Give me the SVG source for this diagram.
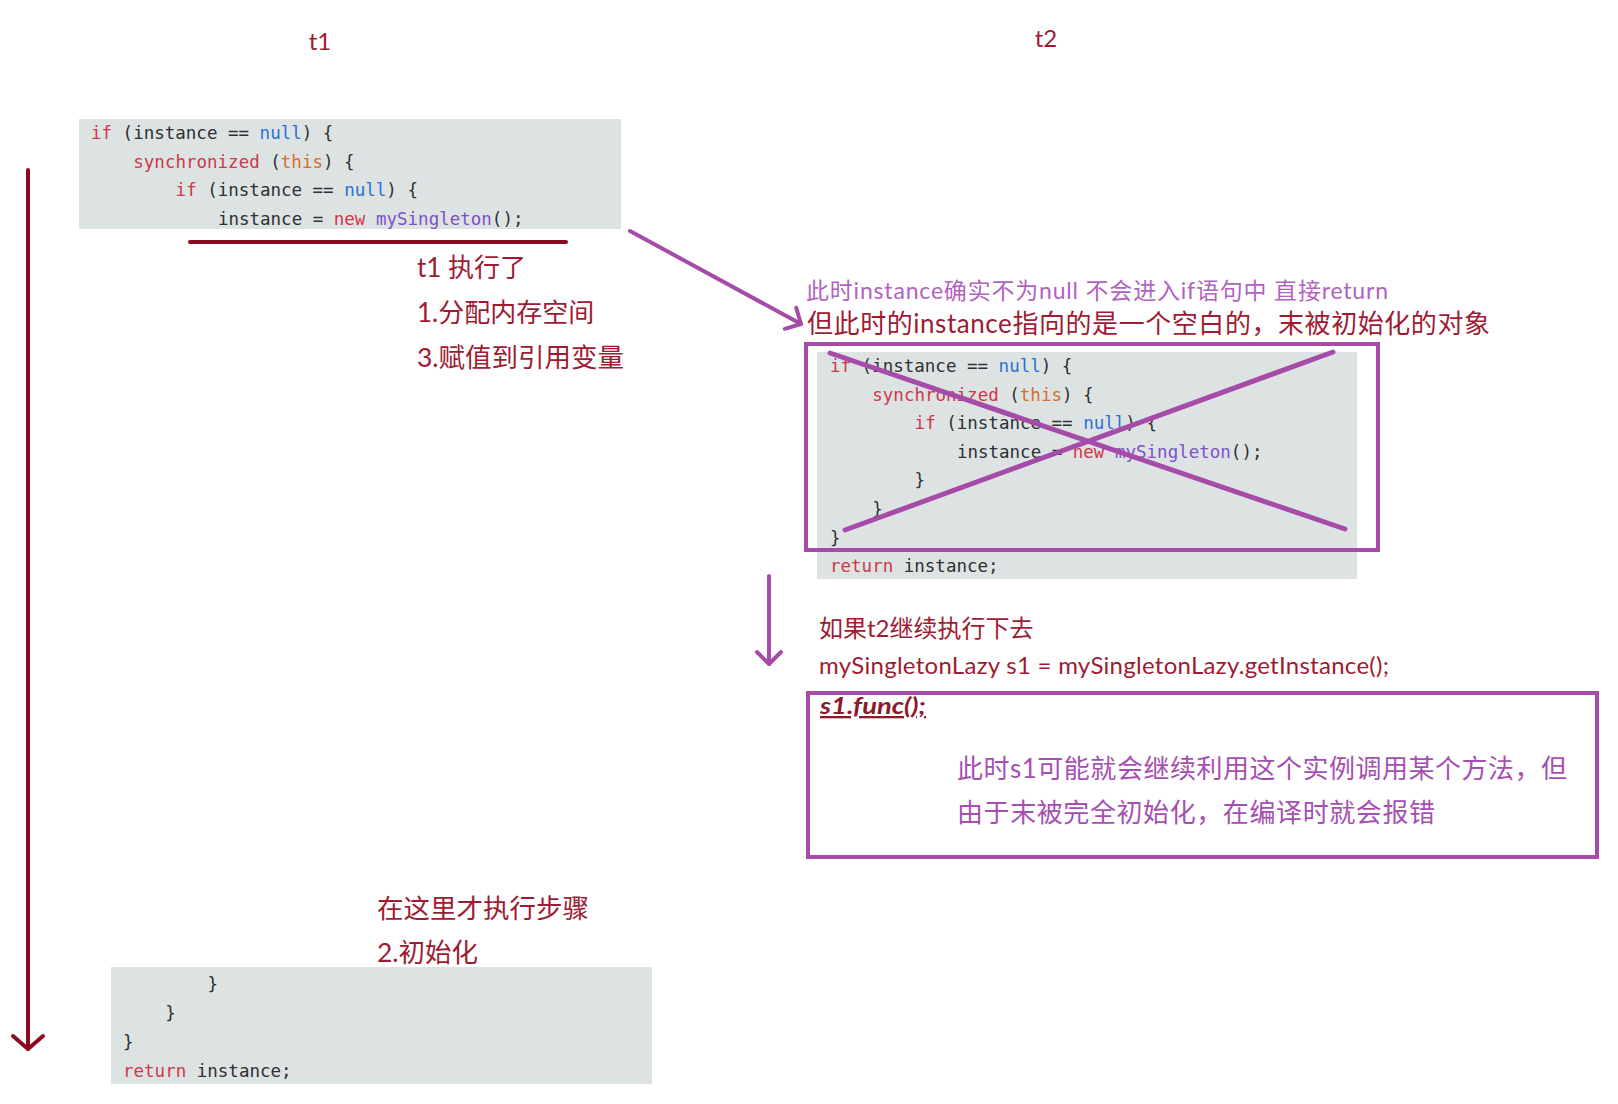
<svg xmlns="http://www.w3.org/2000/svg" width="1618" height="1104" viewBox="0 0 1618 1104">
<style>
.code{font-family:"DejaVu Sans Mono","Liberation Mono",monospace;font-size:17.5px;fill:#2e3032}
.kw{fill:#d1364a}.nu{fill:#2b6fd6}.th{fill:#d4702a}.cl{fill:#8050c8}
.bg{fill:#dde3e3}
.cn{font-family:"Lato","Noto Sans CJK SC",sans-serif}
.red{fill:#9e1b32}
.lp{fill:#b063c0}
.pp{fill:#a64fb2}
.pbox{fill:none;stroke:#a64ba8;stroke-width:4}
.pl{fill:none;stroke:#a64ba8;stroke-width:4;stroke-linecap:round}
.rl{fill:none;stroke:#8c0b20;stroke-width:4;stroke-linecap:round}
</style>
<defs>
<marker id="ah-purple" viewBox="-16 -16 22 32" refX="0" refY="0" markerWidth="22" markerHeight="32" markerUnits="userSpaceOnUse" orient="auto" overflow="visible"><path d="M-12,-12 L0,0 L-12,12" fill="none" stroke="#a64ba8" stroke-width="4" stroke-linecap="round" stroke-linejoin="round"/></marker>
<marker id="ah-red" viewBox="-16 -18 22 36" refX="0" refY="0" markerWidth="22" markerHeight="36" markerUnits="userSpaceOnUse" orient="auto" overflow="visible"><path d="M-13,-15 L0,0 L-13,15" fill="none" stroke="#8c0b20" stroke-width="4" stroke-linecap="round" stroke-linejoin="round"/></marker>
</defs>
<rect width="1618" height="1104" fill="#ffffff"/>

<g id="label-t1"><text class="cn red" x="320" y="50" font-size="24" text-anchor="middle">t1</text></g>
<g id="label-t2"><text class="cn red" x="1046" y="47" font-size="24" text-anchor="middle">t2</text></g>

<g id="code-t1">
<rect class="bg" x="79" y="119" width="542" height="110"/>
<text class="code" x="91" y="139"><tspan class="kw">if</tspan> (instance == <tspan class="nu">null</tspan>) {</text>
<text class="code" x="133.3" y="167.6"><tspan class="kw">synchronized</tspan> (<tspan class="th">this</tspan>) {</text>
<text class="code" x="175.6" y="196.2"><tspan class="kw">if</tspan> (instance == <tspan class="nu">null</tspan>) {</text>
<text class="code" x="217.9" y="224.8">instance = <tspan class="kw">new</tspan> <tspan class="cl">mySingleton</tspan>();</text>
</g>

<g id="note-t1">
<text class="cn red" x="417" y="277" font-size="26">t1 执行了</text>
<text class="cn red" x="417" y="322" font-size="26">1.分配内存空间</text>
<text class="cn red" x="417" y="367" font-size="26.5">3.赋值到引用变量</text>
</g>

<g id="note-t2">
<text class="cn lp" x="806" y="299" font-size="23" textLength="582">此时instance确实不为null 不会进入if语句中 直接return</text>
<text class="cn red" x="807" y="333" font-size="26" textLength="683">但此时的instance指向的是一个空白的，末被初始化的对象</text>
</g>

<g id="code-t2">
<rect class="bg" x="817" y="352" width="540" height="227"/>
<text class="code" x="830" y="372"><tspan class="kw">if</tspan> (instance == <tspan class="nu">null</tspan>) {</text>
<text class="code" x="872.3" y="400.6"><tspan class="kw">synchronized</tspan> (<tspan class="th">this</tspan>) {</text>
<text class="code" x="914.6" y="429.2"><tspan class="kw">if</tspan> (instance == <tspan class="nu">null</tspan>) {</text>
<text class="code" x="956.9" y="457.8">instance = <tspan class="kw">new</tspan> <tspan class="cl">mySingleton</tspan>();</text>
<text class="code" x="914.6" y="486.4">}</text>
<text class="code" x="872.3" y="515">}</text>
<text class="code" x="830" y="543.6">}</text>
<text class="code" x="830" y="572.2"><tspan class="kw">return</tspan> instance;</text>
<rect class="pbox" x="806" y="344" width="572" height="206"/>
<line x1="830" y1="353" x2="1345" y2="529" stroke="#a64ba8" stroke-width="5" stroke-linecap="round"/>
<line x1="1333" y1="352" x2="845" y2="530" stroke="#a64ba8" stroke-width="5" stroke-linecap="round"/>
</g>

<g id="note-continue">
<text class="cn red" x="819" y="637" font-size="24">如果t2继续执行下去</text>
<text class="cn red" x="819" y="674" font-size="24" textLength="570">mySingletonLazy s1 = mySingletonLazy.getInstance();</text>
</g>

<g id="call-box">
<rect class="pbox" x="808" y="693" width="789" height="164"/>
<text class="cn" x="820" y="714" font-size="23" font-weight="bold" font-style="italic" text-decoration="underline" fill="#8b1a2a" textLength="106" lengthAdjust="spacingAndGlyphs">s1.func();</text>
<text class="cn pp" x="957" y="778" font-size="26" textLength="610">此时s1可能就会继续利用这个实例调用某个方法，但</text>
<text class="cn pp" x="957" y="822" font-size="26" textLength="478">由于末被完全初始化，在编译时就会报错</text>
</g>

<g id="note-init">
<text class="cn red" x="377" y="918" font-size="26.5">在这里才执行步骤</text>
<text class="cn red" x="377" y="962" font-size="26.5">2.初始化</text>
</g>

<g id="code-t1-end">
<rect class="bg" x="111" y="967" width="541" height="117"/>
<text class="code" x="207.6" y="990">}</text>
<text class="code" x="165.3" y="1019">}</text>
<text class="code" x="123" y="1048">}</text>
<text class="code" x="123" y="1077"><tspan class="kw">return</tspan> instance;</text>
</g>

<g id="connectors">
<line class="rl" x1="28" y1="170" x2="28" y2="1049" marker-end="url(#ah-red)"/>
<line class="rl" x1="190" y1="242" x2="566" y2="242"/>
<line class="pl" x1="630" y1="231" x2="801" y2="324" marker-end="url(#ah-purple)"/>
<line class="pl" x1="769" y1="576" x2="769" y2="664" marker-end="url(#ah-purple)"/>
</g>
</svg>
